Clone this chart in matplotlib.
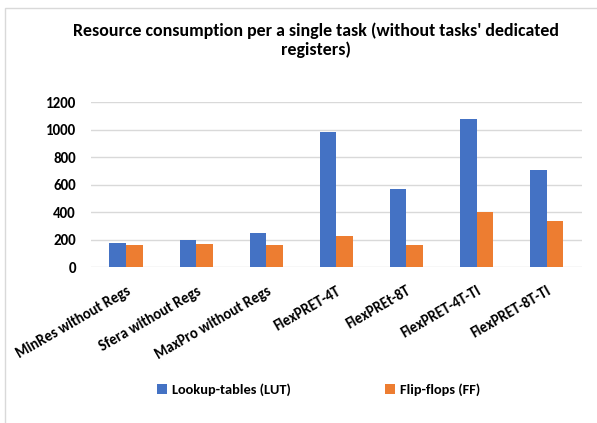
import matplotlib
matplotlib.use("Agg")
import matplotlib.pyplot as plt
import numpy as np
from matplotlib.patches import Rectangle

categories = ["MinRes without Regs", "Sfera without Regs", "MaxPro without Regs",
              "FlexPRET-4T", "FlexPREt-8T", "FlexPRET-4T-TI", "FlexPRET-8T-TI"]
lut_values = [175, 200, 250, 985, 570, 1080, 705]
ff_values = [160, 170, 160, 225, 165, 405, 335]
series_names = ["Lookup-tables (LUT)", "Flip-flops (FF)"]
y_ticks = [0, 200, 400, 600, 800, 1000, 1200]

plt.rcParams['font.family'] = ['Carlito', 'DejaVu Sans']

fig = plt.figure(figsize=(5.97, 4.23), dpi=100)
ax = fig.add_axes([91 / 597, 1 - 267.3 / 423, 490.7 / 597, 165 / 423])

x = np.arange(len(categories))
w = 0.237
b1 = ax.bar(x - w / 2, lut_values, w, color="#4472C4", label=series_names[0], zorder=3)
b2 = ax.bar(x + w / 2, ff_values, w, color="#ED7D31", label=series_names[1], zorder=3)

ax.set_xlim(-0.5, len(categories) - 0.5)
ax.set_ylim(0, 1200)
ax.set_yticks(y_ticks)
ax.set_yticklabels([str(t) for t in y_ticks], fontsize=10.8, fontweight="bold")
ax.yaxis.grid(True, color="#d9d9d9", linewidth=1, zorder=0)
ax.set_axisbelow(True)
for s in ax.spines.values():
    s.set_visible(False)
ax.tick_params(axis="both", length=0)
ax.tick_params(axis="y", pad=10.8)

ax.set_xticks(x)
ax.set_xticklabels(categories, rotation=30, ha="right", va="top",
                   rotation_mode="anchor", fontsize=10.5, fontweight="bold")
ax.tick_params(axis="x", pad=12)

fig.text(0.53, 1 - 22 / 423, "Resource consumption per a single task (without tasks' dedicated\nregisters)",
         ha="center", va="top", fontsize=12.9, fontweight="bold", linespacing=1.25)

fig.legend(handles=[b1, b2], labels=series_names, loc="center",
           bbox_to_anchor=(0.534, 1 - 390 / 423), ncol=2, frameon=False,
           prop={"size": 10.4, "weight": "bold"}, handlelength=0.7,
           handleheight=0.7, columnspacing=6.5, handletextpad=0.35)

fig.patches.append(Rectangle((5 / 597, -0.1), 1.2, 1 - 8 / 423 + 0.1,
                             transform=fig.transFigure, fill=False,
                             edgecolor="#d9d9d9", linewidth=1))

fig.savefig("out.png", dpi=100)
